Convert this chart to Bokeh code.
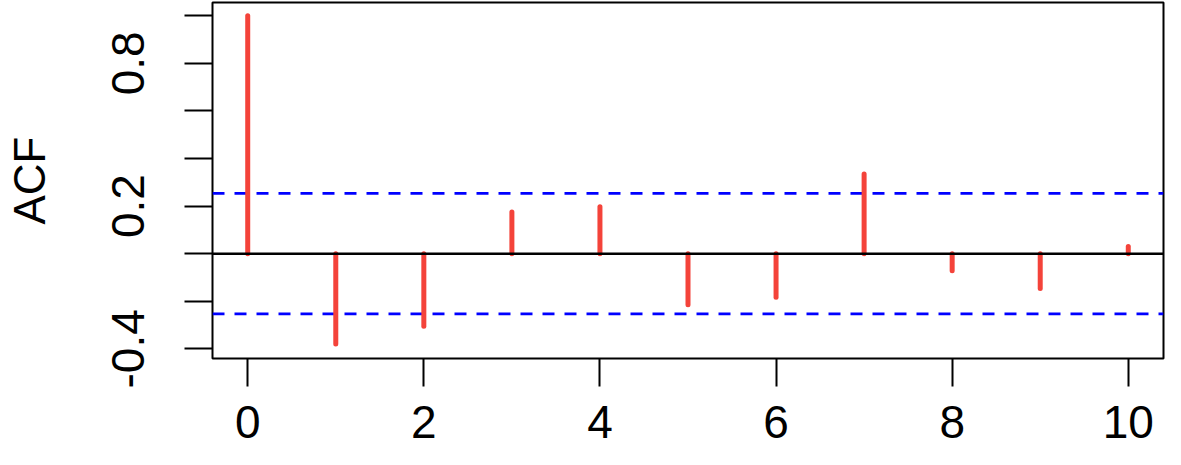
from bokeh.plotting import figure
from bokeh.models import Range1d, FixedTicker, Span
from bokeh.embed import file_html
from bokeh.resources import INLINE

# data
lags = [0, 1, 2, 3, 4, 5, 6, 7, 8, 9, 10]
acf = [1.0, -0.38, -0.305, 0.175, 0.197, -0.215, -0.183, 0.335, -0.072, -0.146, 0.03]
ci = 0.253
y_ticks = [-0.4, -0.2, 0.0, 0.2, 0.4, 0.6, 0.8, 1.0]
y_tick_labels = ["-0.4", "", "", "0.2", "", "", "0.8", ""]
x_ticks = [0, 2, 4, 6, 8, 10]
x_tick_labels = ["0", "2", "4", "6", "8", "10"]

FONT = "Liberation Sans"
FS = "46px"

p = figure(width=1165, height=449, output_backend="svg", toolbar_location=None,
           x_range=Range1d(-0.4, 10.4), y_range=Range1d(-0.4404, 1.0554),
           min_border_left=212, min_border_right=2, min_border_top=2, min_border_bottom=91)
p.grid.visible = False
p.outline_line_color = "black"
p.outline_line_width = 2
p.background_fill_color = "white"
p.border_fill_color = "white"

for loc in (ci, -ci):
    p.add_layout(Span(location=loc, dimension="width", line_color="#0000FF",
                      line_width=2.7, line_dash="12 10", level="underlay"))

p.segment(x0=lags, y0=[0] * len(lags), x1=lags, y1=acf,
          line_color="#F4433A", line_width=5, line_cap="round")

p.add_layout(Span(location=0, dimension="width", line_color="black", line_width=2.5))

xa = p.xaxis[0]
xa.ticker = FixedTicker(ticks=x_ticks)
xa.major_label_overrides = {t: l for t, l in zip(x_ticks, x_tick_labels)}
ya = p.yaxis[0]
ya.ticker = FixedTicker(ticks=y_ticks)
ya.major_label_overrides = {t: l for t, l in zip(y_ticks, y_tick_labels)}
ya.major_label_orientation = "vertical"
ya.axis_label = "ACF"

for ax in (xa, ya):
    ax.axis_line_color = None
    ax.major_tick_in = 0
    ax.major_tick_out = 28
    ax.major_tick_line_width = 2
    ax.major_tick_line_color = "black"
    ax.minor_tick_line_color = None
    ax.major_label_text_font = FONT
    ax.major_label_text_font_size = FS
    ax.major_label_text_color = "black"
    ax.axis_label_text_font = FONT
    ax.axis_label_text_font_size = "44px"
    ax.axis_label_text_font_style = "normal"
    ax.axis_label_text_color = "black"

xa.major_label_standoff = 19
ya.major_label_standoff = 40
ya.axis_label_standoff = 56

open("out.html", "w").write(file_html(p, INLINE))
